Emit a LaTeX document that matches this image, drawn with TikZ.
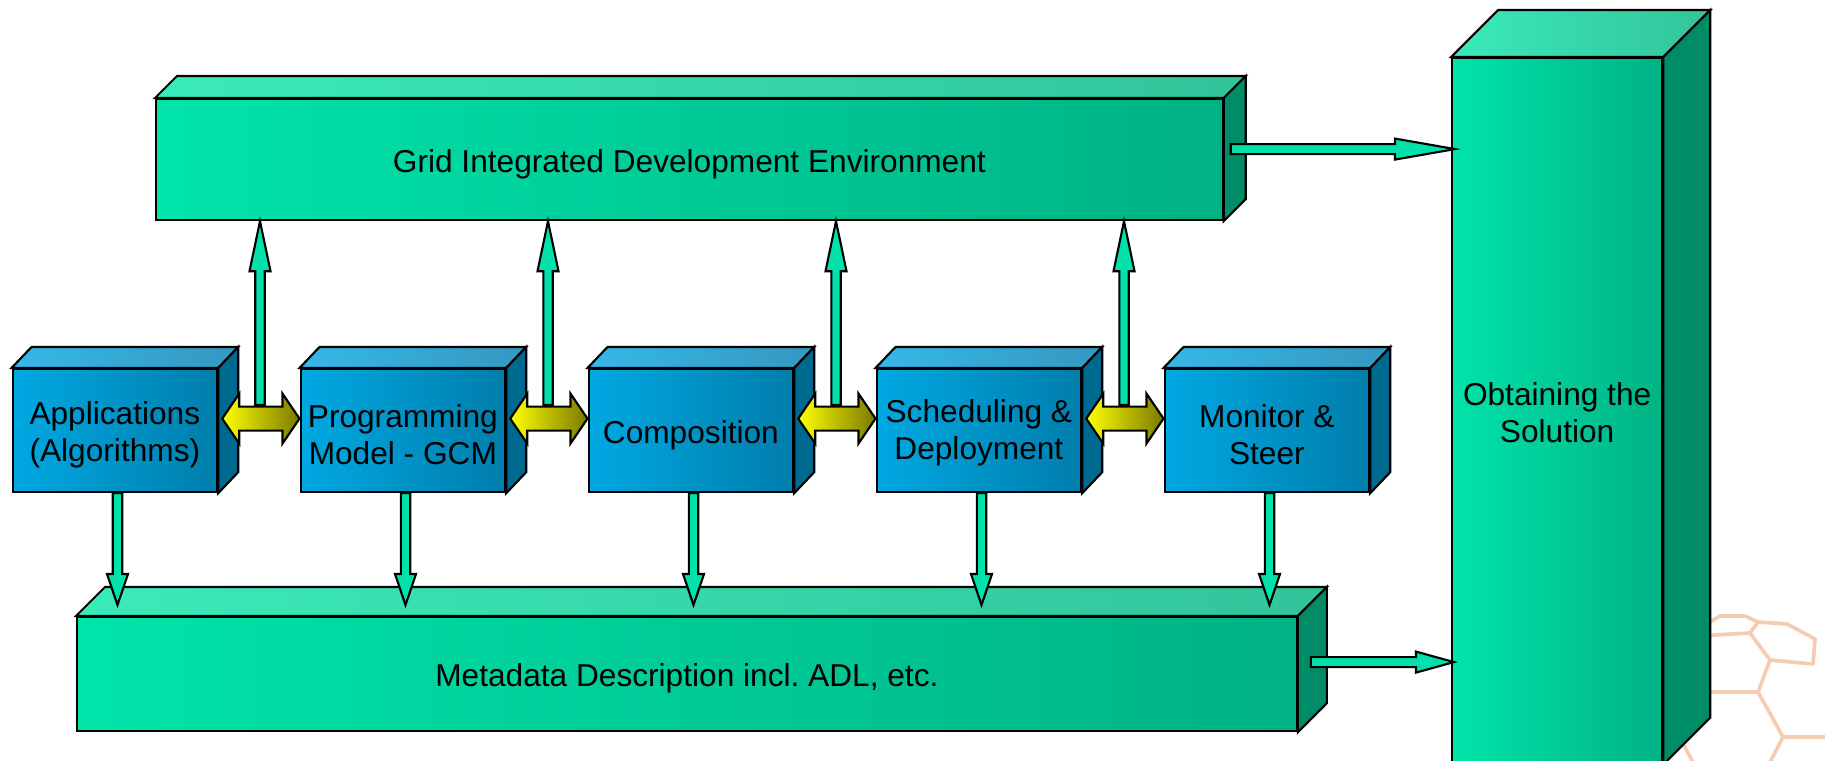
\documentclass[tikz,border=0pt]{standalone}
\usepackage{fontspec}
\setmainfont{Liberation Sans}
\usetikzlibrary{calc}

\definecolor{grnFrontL}{RGB}{0,228,170}
\definecolor{grnFrontR}{RGB}{0,178,132}
\definecolor{grnTopL}{RGB}{58,234,186}
\definecolor{grnTopR}{RGB}{50,196,154}
\definecolor{grnSide}{RGB}{0,140,102}
\definecolor{bluFrontL}{RGB}{0,168,226}
\definecolor{bluFrontR}{RGB}{0,126,172}
\definecolor{bluTopL}{RGB}{54,184,232}
\definecolor{bluTopR}{RGB}{52,152,192}
\definecolor{bluSide}{RGB}{0,106,142}
\definecolor{flowGreen}{RGB}{0,226,170}
\definecolor{linkYellow}{RGB}{255,255,0}
\definecolor{linkOlive}{RGB}{122,122,0}
\definecolor{hexTint}{RGB}{246,204,176}

% strut that lowers a label a little inside its face
\newcommand\facestrut{\rule{0pt}{9pt}}
\newcommand\halfstrut{\rule{0pt}{7.6pt}}

\tikzset{
  outline/.style={draw=black, line width=0.6pt, line join=miter},
  face/.style={outline, inner sep=0pt, anchor=north west, align=center,
    font=\fontsize{9}{10.6}\selectfont},
  greenface/.style={face, left color=grnFrontL, right color=grnFrontR},
  blueface/.style={face, left color=bluFrontL, right color=bluFrontR,
    minimum width=2.045cm, minimum height=1.23cm},
  greentop/.style={outline, left color=grnTopL, right color=grnTopR},
  bluetop/.style={outline, left color=bluTopL, right color=bluTopR},
  flowarrow/.style={outline, fill=flowGreen},
  linkarrow/.style={outline, left color=linkYellow, right color=linkOlive},
  hexline/.style={draw=hexTint, line width=1.05pt, line join=round},
}

% top and side faces of a box whose front face is node #1
% #2/#3: depth to the right / upwards, #4: top style, #5: side colour
\newcommand\boxdepth[5]{%
  \path[#4] (#1.north west) -- ++(#2,-#3) -- ($(#1.north east)+(#2,-#3)$)
    -- (#1.north east) -- cycle;
  \path[outline, fill=#5] (#1.north east) -- ++(#2,-#3)
    -- ($(#1.south east)+(#2,-#3)$) -- (#1.south east) -- cycle;
}

% single-headed block arrow: #1 style, #2 tail, #3 tip,
% #4 half shaft width, #5 half head width, #6 head length
\newcommand\blockarrow[6]{%
  \coordinate (ba-h) at ($(#3)!#6!(#2)$);
  \path[#1] ($(#2)!#4!90:(#3)$) -- ($(ba-h)!#4!-90:(#2)$)
    -- ($(ba-h)!#5!-90:(#2)$) -- (#3) -- ($(ba-h)!#5!90:(#2)$)
    -- ($(ba-h)!#4!90:(#2)$) -- ($(#2)!#4!-90:(#3)$) -- cycle;
}

% double-headed block arrow, same arguments
\newcommand\doublearrow[6]{%
  \coordinate (da-a) at ($(#2)!#6!(#3)$);
  \coordinate (da-b) at ($(#3)!#6!(#2)$);
  \path[#1] (#2) -- ($(da-a)!#5!90:(#3)$) -- ($(da-a)!#4!90:(#3)$)
    -- ($(da-b)!#4!-90:(#2)$) -- ($(da-b)!#5!-90:(#2)$) -- (#3)
    -- ($(da-b)!#5!90:(#2)$) -- ($(da-b)!#4!90:(#2)$)
    -- ($(da-a)!#4!-90:(#3)$) -- ($(da-a)!#5!-90:(#3)$) -- cycle;
}

\begin{document}
\begin{tikzpicture}[x=0.01cm, y=-0.01cm]
\clip (0,0) rectangle (1825,761);
\fill[white] (0,0) rectangle (1825,761);

% faint hexagon emblem in the lower right corner
\draw[hexline] (1695,630) -- (1710,622) -- (1720,616) -- (1745,616)
  -- (1758,622) -- (1750,633) -- (1713,635) -- (1700,640);
\draw[hexline] (1758,622) -- (1787,624) -- (1815,639) -- (1813,664)
  -- (1770,660) -- (1750,633);
\draw[hexline] (1770,660) -- (1758,692) -- (1700,692);
\draw[hexline] (1758,692) -- (1783,737) -- (1830,737);
\draw[hexline] (1783,737) -- (1768,766);
\draw[hexline] (1680,738) -- (1695,766);

% green boxes
\node[greenface, minimum width=10.66cm, minimum height=1.21cm] (ide)
  at (155,98) {\facestrut Grid Integrated Development Environment};
\boxdepth{ide}{22}{22}{greentop}{grnSide}

\node[greenface, minimum width=12.19cm, minimum height=1.14cm] (meta)
  at (76,616) {\facestrut Metadata Description incl.\ ADL, etc.};
\boxdepth{meta}{29}{29}{greentop}{grnSide}

\node[greenface, minimum width=2.10cm, minimum height=7.05cm] (sol)
  at (1451,57) {\halfstrut Obtaining the\\Solution};
\boxdepth{sol}{47}{47}{greentop}{grnSide}

% blue process boxes
\node[blueface] (app)   at (11.5,368)   {\facestrut Applications\\(Algorithms)};
\node[blueface] (pm)    at (299.5,368)  {\facestrut Programming\\Model - GCM};
\node[blueface] (comp)  at (587.5,368)  {\facestrut Composition};
\node[blueface] (sched) at (875.5,368)  {\halfstrut Scheduling \&\\Deployment};
\node[blueface] (mon)   at (1163.5,368) {\facestrut Monitor \&\\Steer};
\foreach \nd in {app,pm,comp,sched,mon} {
  \boxdepth{\nd}{20}{21}{bluetop}{bluSide}
}

% links between neighbouring boxes, and their arrows up to the IDE
\foreach \lhsbox/\rhsbox [count=\i] in {app/pm, pm/comp, comp/sched, sched/mon} {
  \coordinate (up\i) at ($(\rhsbox.north west)+(-39.5,37)$);
  \coordinate (upt\i) at (up\i |- ide.south);
  \blockarrow{flowarrow}{up\i}{upt\i}{0.047cm}{0.105cm}{0.5cm}
  \coordinate (lk\i) at ($(\lhsbox.east)+(4,-12)$);
  \coordinate (lkt\i) at ($(\rhsbox.west)+(0,-12)$);
  \doublearrow{linkarrow}{lk\i}{lkt\i}{0.12cm}{0.25cm}{0.17cm}
}

% arrows down to the metadata box
\foreach \nd in {app,pm,comp,sched,mon} {
  \coordinate (dn-\nd) at ($(\nd.south west)+(106,0)$);
  \coordinate (dt-\nd) at ($(dn-\nd |- meta.north)+(0,-11)$);
  \blockarrow{flowarrow}{dn-\nd}{dt-\nd}{0.047cm}{0.105cm}{0.31cm}
}

% arrows into the solution column
\coordinate (ra1) at ($(ide.east)+(7,-10.5)$);
\coordinate (rb1) at ($(ra1 -| sol.west)+(4,0)$);
\blockarrow{flowarrow}{ra1}{rb1}{0.05cm}{0.105cm}{0.6cm}
\coordinate (ra2) at ($(meta.east)+(13,-12)$);
\coordinate (rb2) at ($(ra2 -| sol.west)+(3,0)$);
\blockarrow{flowarrow}{ra2}{rb2}{0.05cm}{0.105cm}{0.38cm}
\end{tikzpicture}
\end{document}
